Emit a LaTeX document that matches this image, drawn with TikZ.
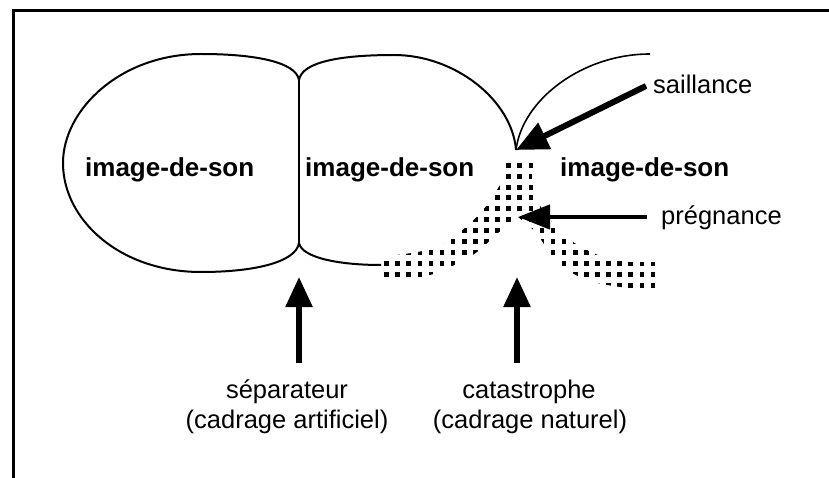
\documentclass[tikz,border=0pt]{standalone}
\usepackage{fontspec}
\setmainfont{Liberation Sans}
\usetikzlibrary{arrows.meta}
\begin{document}
\begin{tikzpicture}[x=1pt,y=-1pt,
  outline/.style={line width=2pt, line join=round},
  thinline/.style={line width=1.6pt},
  bigarrow/.style={line width=5.5pt, -{Triangle[length=30pt,width=26pt]}},
  lbl/.style={font=\fontsize{25.5}{30}\selectfont, inner sep=0pt},
  blbl/.style={font=\fontsize{26}{30}\selectfont\bfseries, inner sep=0pt}]
\useasboundingbox (0,0) rectangle (829,478);
% frame
\draw[line width=2.5pt] (13.3,478) -- (13.3,10.7) -- (829,10.7);
% named points
\coordinate (cuspTop) at (299,80);
\coordinate (cuspBot) at (299,243);
\coordinate (cusp) at (516,150);
\coordinate (preg) at (518,217);
% dotted cusp region
\begin{scope}
\clip (503,160) -- plot[smooth,tension=0.6] coordinates {(500,185) (483,210) (460,232) (437,247) (405,254) (380,256)}
  -- (380,281) -- plot[smooth,tension=0.6] coordinates {(410,279) (437,273) (460,262) (477,252) (497,234) (517,216)}
  -- plot[smooth,tension=0.6] coordinates {(537,233) (550,253) (563,267) (587,280) (620,287) (656,290)}
  -- (656,262) -- plot[smooth,tension=0.6] coordinates {(630,262) (603,257) (570,240) (550,220) (537,200) (533,185) (533,160)}
  -- cycle;
\foreach \i in {0,...,24} \foreach \j in {0,...,11}
  \fill (384.2+11.1*\i, 162.8+10.9*\j) rectangle ++(4.6,5);
\end{scope}
% left blob
\draw[outline] (cuspTop) .. controls (296,62) and (255,54) .. (201,54)
  .. controls (120,54) and (63,110) .. (63,163)
  .. controls (63,220) and (120,272) .. (201,272)
  .. controls (255,272) and (296,262) .. (cuspBot);
% separator
\draw[thinline] (cuspTop) -- (cuspBot);
% middle blob
\draw[outline] (cuspTop) .. controls (302,62) and (340,55) .. (394,55)
  .. controls (455,55) and (512,100) .. (cusp);
\draw[outline] (cuspBot) .. controls (302,258) and (340,265) .. (381,265);
% right blob arc
\draw[thinline] (cusp) .. controls (522,100) and (582,54) .. (650,54);
% labels
\node[blbl, anchor=base west] (img1) at (85,176.5) {image-de-son};
\node[blbl, anchor=base west] (img2) at (305,176.5) {image-de-son};
\node[blbl, anchor=base west] (img3) at (560,176.5) {image-de-son};
\node[lbl, anchor=base west] (sail) at (653,93.5) {saillance};
\node[lbl, anchor=base west] (pregl) at (661,225) {prégnance};
\node[lbl, anchor=base] (sep1) at (287,398) {séparateur};
\node[lbl, anchor=base] (sep2) at (287,428) {(cadrage artificiel)};
\node[lbl, anchor=base] (cat1) at (529,398) {catastrophe};
\node[lbl, anchor=base] (cat2) at (530,428) {(cadrage naturel)};
% arrows
\coordinate (sailtail) at (646,86);
\coordinate (pregtail) at (647,217);
\coordinate (septail) at (299,363);
\coordinate (septip) at (299,277);
\coordinate (cattail) at (517,363);
\coordinate (cattip) at (517,277);
\draw[line width=6pt, -{Triangle[length=32pt,width=28pt]}] (sailtail) -- (cusp);
\draw[line width=4.5pt, -{Triangle[length=32pt,width=24pt]}] (pregtail) -- (preg);
\draw[bigarrow] (septail) -- (septip);
\draw[bigarrow] (cattail) -- (cattip);
\end{tikzpicture}
\end{document}
